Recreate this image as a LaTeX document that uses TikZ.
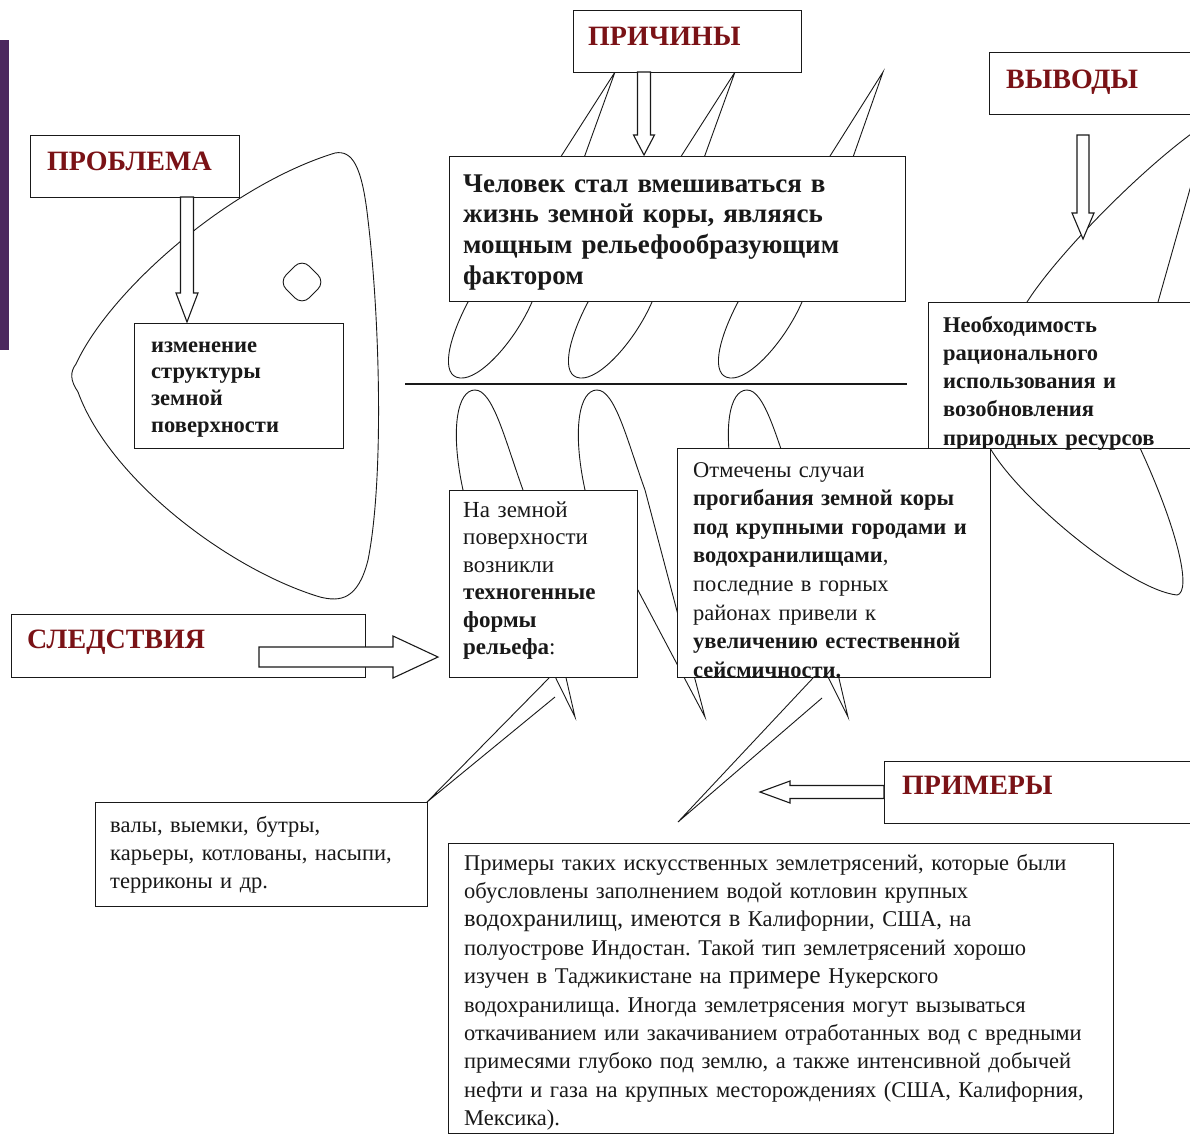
\documentclass[tikz,border=0pt]{standalone}
\usepackage{fontspec}
\setmainfont{Liberation Serif}
\usetikzlibrary{calc}
\frenchspacing
\definecolor{titlered}{RGB}{122,18,22}
\definecolor{barpurple}{RGB}{76,40,94}
\definecolor{ink}{RGB}{25,25,25}
\tikzset{
  box/.style={draw=ink, fill=white, line width=1.4pt, inner sep=0pt, anchor=north west},
  title/.style={text=titlered, font=\fontsize{28}{30}\selectfont\bfseries, inner sep=0pt, anchor=base west},
  txt/.style={text=ink, inner sep=0pt, anchor=base west, align=left},
  bone/.style={draw=ink, line width=0.9pt},
  fat/.style n args={3}{draw=ink, fill=white, line width=1.1pt, to path={
    let \p1=(\tikztostart), \p2=(\tikztotarget), \n1={atan2(\y2-\y1,\x2-\x1)} in
    ($(\p1)+(\n1+90:#1)$) -- ($(\p2)+(\n1+180:#3)+(\n1+90:#1)$) -- ($(\p2)+(\n1+180:#3)+(\n1+90:#2)$) -- (\p2)
    -- ($(\p2)+(\n1+180:#3)+(\n1-90:#2)$) -- ($(\p2)+(\n1+180:#3)+(\n1-90:#1)$) -- ($(\p1)+(\n1-90:#1)$) -- cycle}}
}
\begin{document}
\begin{tikzpicture}[x=1pt, y=-1pt]
\path[use as bounding box, clip] (0,0) rectangle (1190,1135);
\fill[barpurple] (0,40) rectangle (9,350);

% head of the fish
\draw[bone] (335,153) .. controls (352,150) and (362,165) .. (368,220)
  .. controls (380,320) and (384,480) .. (368,560)
  .. controls (358,600) and (340,602) .. (320,597)
  .. controls (230,570) and (110,480) .. (78,392)
  .. controls (70,380) and (70,372) .. (76,364)
  .. controls (110,290) and (230,185) .. (335,153) -- cycle;
\draw[bone, rounded corners=10pt] (302,259) -- (325,282) -- (302,305) -- (279,282) -- cycle;

% bones
\draw[bone, line width=1.1pt] (405,384) -- (907,384);
\foreach \bx/\tx in {460/615, 580/735, 730/883}
  \draw[bone] (\tx,72) -- (\bx+8,302) .. controls (\bx-12,340) and (\bx-20,376) .. (\bx,378)
    .. controls (\bx+20,380) and (\bx+55,341) .. (\bx+72,302) -- cycle;
\foreach \bx/\tx in {475/575, 597/705, 747/848}
  \draw[bone] (\tx,717) -- (\bx-12,490) .. controls (\bx-25,430) and (\bx-18,390) .. (\bx,390)
    .. controls (\bx+18,390) and (\bx+30,440) .. (\bx+48,490) -- cycle;
\draw[bone] (549,678) -- (427,802) -- (555,697);
\draw[bone] (813,678) -- (678,822) -- (822,698);

% tail
\draw[bone] (1215,118) .. controls (1160,150) and (1060,250) .. (1027,302)
  .. controls (1005,350) and (990,400) .. (990,448)
  .. controls (1020,500) and (1130,590) .. (1177,595)
  .. controls (1192,592) and (1178,530) .. (1140,448)
  .. controls (1130,400) and (1148,330) .. (1158,302) -- (1201,150);

% boxes
\node[box, minimum width=209, minimum height=62] (prob) at (30,135) {};
\node[title] (probt) at (47,170) {ПРОБЛЕМА};
\node[box, minimum width=209, minimum height=125] (change) at (134,323) {};
\node[txt, text width=190, font=\fontsize{22.5}{26.7}\selectfont\bfseries] (changet) at (151,352)
  {изменение\\ структуры\\ земной\\ поверхности};

\node[box, minimum width=228, minimum height=62] (cause) at (573,10) {};
\node[title] (causet) at (588,45) {ПРИЧИНЫ};
\node[box, minimum width=456, minimum height=145] (man) at (449,156) {};
\node[txt, text width=440, font=\fontsize{27}{30.7}\selectfont\bfseries] (mant) at (463,192)
  {Человек стал вмешиваться в\\ жизнь земной коры, являясь\\ мощным рельефообразующим\\ фактором};

\node[box, minimum width=215, minimum height=62] (concl) at (989,52) {};
\node[title] (conclt) at (1006,88) {ВЫВОДЫ};
\node[box, minimum width=275, minimum height=146] (need) at (928,302) {};
\node[txt, text width=250, font=\fontsize{22.5}{28.3}\selectfont\bfseries] (needt) at (943,332)
  {Необходимость\\ рационального\\ использования и\\ возобновления\\ природных ресурсов};

\node[box, minimum width=354, minimum height=63] (conseq) at (11,614) {};
\node[title] (conseqt) at (27,648) {СЛЕДСТВИЯ};
\node[box, minimum width=188, minimum height=187] (relief) at (449,490) {};
\node[txt, text width=175, font=\fontsize{23}{27.5}\selectfont] (relieft) at (463,517)
  {На земной\\ поверхности\\ возникли\\ \textbf{техногенные}\\ \textbf{формы}\\ \textbf{рельефа}:};
\node[box, minimum width=313, minimum height=229] (sink) at (677,448) {};
\node[txt, text width=300, font=\fontsize{22.5}{28.6}\selectfont] (sinkt) at (693,477)
  {Отмечены случаи\\ \textbf{прогибания земной коры}\\ \textbf{под крупными городами и}\\
   \textbf{водохранилищами},\\ последние в горных\\ районах привели к\\
   \textbf{увеличению естественной}\\ \textbf{сейсмичности.}};
\node[box, minimum width=332, minimum height=104] (forms) at (95,802) {};
\node[txt, text width=320, font=\fontsize{22.5}{28}\selectfont] (formst) at (110,832)
  {валы, выемки, бутры,\\ карьеры, котлованы, насыпи,\\ терриконы и др.};

\node[box, minimum width=320, minimum height=62] (examp) at (884,761) {};
\node[title] (exampt) at (902,794) {ПРИМЕРЫ};
\node[box, minimum width=665, minimum height=290] (quake) at (448,843) {};
\node[txt, text width=650, font=\fontsize{22.5}{28.4}\selectfont] (quaket) at (464,870)
  {Примеры таких искусственных землетрясений, которые были\\
   обусловлены заполнением водой котловин крупных\\
   {\fontsize{24.5}{28.4}\selectfont водохранилищ, имеются в} Калифорнии, США, на\\
   полуострове Индостан. Такой тип землетрясений хорошо\\
   изучен в Таджикистане на {\fontsize{25.5}{28.4}\selectfont примере} Нукерского\\
   водохранилища. Иногда землетрясения могут вызываться\\
   откачиванием или закачиванием отработанных вод с вредными\\
   примесями глубоко под землю, а также интенсивной добычей\\
   нефти и газа на крупных месторождениях (США, Калифорния,\\
   Мексика).};

% hollow arrows
\coordinate (pa1) at (187,197);  \coordinate (pa2) at (187,322);
\coordinate (ca1) at (644,72);   \coordinate (ca2) at (644,155);
\coordinate (va1) at (1083,135); \coordinate (va2) at (1083,239);
\coordinate (sa1) at (259,657);  \coordinate (sa2) at (438,657);
\coordinate (ea1) at (884,792);  \coordinate (ea2) at (760,792);
\draw[fat={6.5pt}{11pt}{29pt}] (pa1) to (pa2);
\draw[fat={6.5pt}{10.5pt}{20pt}] (ca1) to (ca2);
\draw[fat={6pt}{11pt}{26pt}] (va1) to (va2);
\draw[fat={10pt}{21pt}{45pt}] (sa1) to (sa2);
\draw[fat={6.5pt}{11pt}{30pt}] (ea1) to (ea2);
\end{tikzpicture}
\end{document}
